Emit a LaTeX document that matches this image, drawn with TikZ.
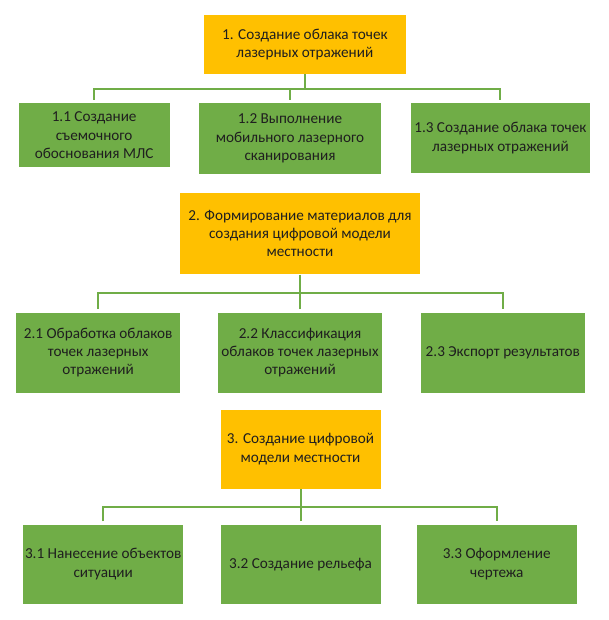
\documentclass[tikz,border=0pt]{standalone}
\usepackage{fontspec}
\setmainfont{Carlito}
\begin{document}
\begin{tikzpicture}[x=1pt,y=-1pt,
  box/.style={inner sep=1pt, align=center, text=black!88,
    font=\fontsize{15.2}{18.3}\selectfont, draw=white, line width=0.7pt},
  topbox/.style={box, fill=orange1},
  subbox/.style={box, fill=green1},
  conn/.style={draw=green1, line width=2pt}]
\definecolor{orange1}{HTML}{FFC000}
\definecolor{green1}{HTML}{70AD47}
\useasboundingbox (0,0) rectangle (609,620);
% level 1
\node[topbox, minimum width=202.3pt, minimum height=59.3pt] (b1) at (304.85,44.35) {1. Создание облака точек\\лазерных отражений};
\node[subbox, minimum width=151.7pt, minimum height=65pt] (b11) at (94.15,135.2) {1.1 Создание\\съемочного\\обоснования МЛС};
\node[subbox, minimum width=183.4pt, minimum height=71.3pt] (b12) at (290,138.35) {1.2 Выполнение\\мобильного лазерного\\сканирования};
\node[subbox, minimum width=180.7pt, minimum height=70.6pt] (b13) at (500.35,138) {1.3 Создание облака точек\\лазерных отражений};
\coordinate (bus1) at (0,88.7);
% level 2
\node[topbox, minimum width=241.4pt, minimum height=81.6pt] (b2) at (300,233.5) {2. Формирование материалов для\\создания цифровой модели\\местности};
\node[subbox, minimum width=165pt, minimum height=81.3pt] (b21) at (98.2,352.65) {2.1 Обработка облаков\\точек лазерных\\отражений};
\node[subbox, minimum width=165.4pt, minimum height=81.3pt] (b22) at (300,352.65) {2.2 Классификация\\облаков точек лазерных\\отражений};
\node[subbox, minimum width=165.7pt, minimum height=81.3pt] (b23) at (502.85,352.65) {2.3 Экспорт результатов};
\coordinate (bus2) at (0,293.3);
% level 3
\node[topbox, minimum width=161pt, minimum height=80pt] (b3) at (300.5,449) {3. Создание цифровой\\модели местности};
\node[subbox, minimum width=161pt, minimum height=79.7pt] (b31) at (103.2,564.15) {3.1 Нанесение объектов\\ситуации};
\node[subbox, minimum width=161pt, minimum height=79.7pt] (b32) at (300.5,564.15) {3.2 Создание рельефа};
\node[subbox, minimum width=161pt, minimum height=79.7pt] (b33) at (496.8,564.15) {3.3 Оформление\\чертежа};
\coordinate (bus3) at (0,507);
% connectors
\draw[conn] (b1.south) -- (b1.south |- bus1);
\draw[conn] ([yshift=2.5pt]b11.north) |- (b1.south |- bus1) -| ([yshift=2.5pt]b13.north);
\draw[conn] ([yshift=2.5pt]b12.north) -- (b12.north |- bus1);
\draw[conn] (b2.south) -- (b2.south |- bus2);
\draw[conn] ([yshift=2.5pt]b21.north) |- (b2.south |- bus2) -| ([yshift=2.5pt]b23.north);
\draw[conn] ([yshift=2.5pt]b22.north) -- (b22.north |- bus2);
\draw[conn] (b3.south) -- (b3.south |- bus3);
\draw[conn] ([yshift=2.5pt]b31.north) |- (b3.south |- bus3) -| ([yshift=2.5pt]b33.north);
\draw[conn] ([yshift=2.5pt]b32.north) -- (b32.north |- bus3);
\end{tikzpicture}
\end{document}
